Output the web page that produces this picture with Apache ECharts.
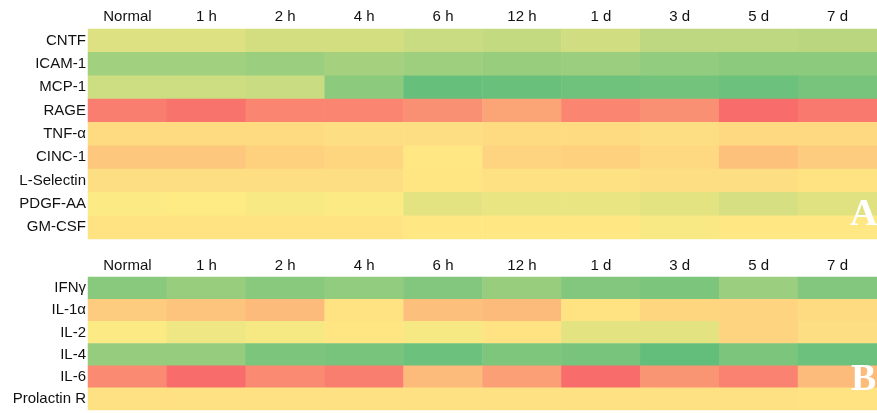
<!DOCTYPE html>
<html><head><meta charset="utf-8">
<script src="https://cdn.jsdelivr.net/npm/echarts@6/dist/echarts.min.js"></script>
<style>html,body{margin:0;padding:0;background:#fff}#c{width:877px;height:413px}</style>
</head><body><div id="c"></div>
<script>
// time points (columns)
const times = ['Normal','1 h','2 h','4 h','6 h','12 h','1 d','3 d','5 d','7 d'];
// panel A rows
const rowsA = ['CNTF','ICAM-1','MCP-1','RAGE','TNF-α','CINC-1','L-Selectin','PDGF-AA','GM-CSF'];
const CNTF      = [61, 61, 64, 64, 67, 69, 65, 71, 71, 72];
const ICAM1     = [80, 80, 82, 79, 81, 83, 82, 85, 87, 87];
const MCP1      = [66, 66, 67, 87, 99, 98, 96, 95, 97, 93];
const RAGE      = [8, 4, 11, 11, 15, 23, 11, 15, 1, 6];
const TNFa      = [44, 44, 44, 45, 45, 44, 44, 45, 43, 43];
const CINC1     = [36, 36, 40, 42, 49, 41, 40, 43, 34, 38];
const LSelectin = [45, 45, 45, 45, 48, 46, 46, 45, 45, 47];
const PDGFAA    = [51, 50, 52, 51, 59, 57, 57, 59, 63, 60];
const GMCSF     = [47, 47, 47, 47, 49, 49, 49, 52, 49, 49];
// panel B rows
const rowsB = ['IFNγ','IL-1α','IL-2','IL-4','IL-6','Prolactin R'];
const IFNg      = [88, 83, 88, 85, 90, 83, 90, 92, 82, 90];
const IL1a      = [38, 35, 31, 47, 33, 31, 47, 42, 41, 44];
const IL2       = [51, 55, 53, 48, 53, 47, 59, 59, 41, 45];
const IL4       = [84, 84, 92, 93, 97, 91, 93, 100, 92, 97];
const IL6       = [13, 1, 13, 8, 31, 21, 1, 17, 10, 31];
const ProlactinR= [46, 46, 46, 46, 46, 46, 46, 46, 46, 47];

const valsA = [CNTF, ICAM1, MCP1, RAGE, TNFa, CINC1, LSelectin, PDGFAA, GMCSF];
const valsB = [IFNg, IL1a, IL2, IL4, IL6, ProlactinR];

function toData(vals){
  const d = [];
  vals.forEach((row, r) => row.forEach((v, c) => d.push([c, r, v])));
  return d;
}

const font = 'Liberation Sans, Arial, sans-serif';
const xAx = (gi, margin) => ({
  type: 'category', gridIndex: gi, data: times, position: 'top',
  axisLine: {show: false}, axisTick: {show: false}, splitLine: {show: false},
  axisLabel: {color: '#111', fontFamily: font, fontSize: 15, margin: margin}
});
const yAx = (gi, rows) => ({
  type: 'category', gridIndex: gi, data: rows, inverse: true,
  axisLine: {show: false}, axisTick: {show: false}, splitLine: {show: false},
  axisLabel: {color: '#111', fontFamily: font, fontSize: 15, margin: 2}
});

const chart = echarts.init(document.getElementById('c'));
chart.setOption({
  animation: false,
  grid: [
    {left: 88, top: 29, width: 799, height: 210},
    {left: 88, top: 277, width: 799, height: 133}
  ],
  xAxis: [xAx(0, 5), xAx(1, 4)],
  yAxis: [yAx(0, rowsA), yAx(1, rowsB)],
  visualMap: {
    show: false, min: 0, max: 100, seriesIndex: [0, 1], dimension: 2,
    inRange: {color: ['#F8696B', '#FFEB84', '#63BE7B']}
  },
  series: [
    {type: 'heatmap', xAxisIndex: 0, yAxisIndex: 0, data: toData(valsA), itemStyle: {borderWidth: 0}},
    {type: 'heatmap', xAxisIndex: 1, yAxisIndex: 1, data: toData(valsB), itemStyle: {borderWidth: 0}}
  ],
  graphic: [
    {type: 'text', z: 100, left: 850, top: 196, style: {text: 'A', fill: '#fff', font: 'bold 38px "Liberation Serif", "Times New Roman", serif'}},
    {type: 'text', z: 100, left: 851, top: 361, style: {text: 'B', fill: '#fff', font: 'bold 38px "Liberation Serif", "Times New Roman", serif'}}
  ]
});
</script></body></html>
